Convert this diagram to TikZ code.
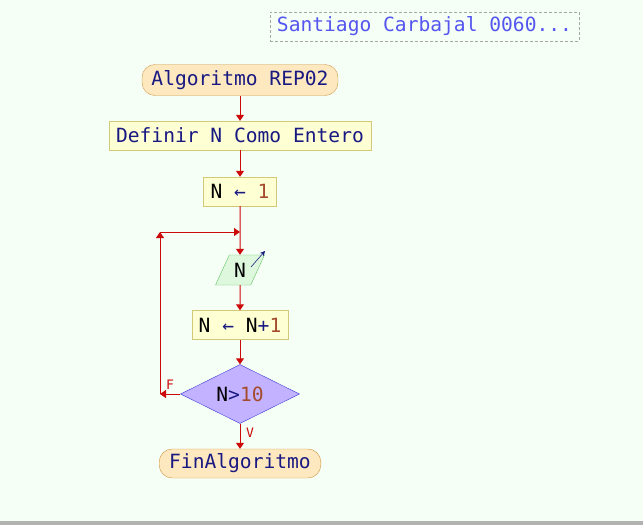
\documentclass[tikz,border=0pt]{standalone}
\usepackage{fontspec}
\newfontfamily\psfont{DejaVu Sans Mono}
\usetikzlibrary{positioning,shapes.geometric,arrows.meta}
\definecolor{bgmint}{RGB}{245,255,245}
\definecolor{kwnavy}{RGB}{25,25,130}
\definecolor{numbrown}{RGB}{165,75,45}
\definecolor{flowred}{RGB}{205,10,10}
\definecolor{procfill}{RGB}{255,255,212}
\definecolor{procdraw}{RGB}{210,200,120}
\definecolor{termfill}{RGB}{253,232,192}
\definecolor{termdraw}{RGB}{210,150,70}
\definecolor{readfill}{RGB}{222,248,222}
\definecolor{readdraw}{RGB}{100,195,100}
\definecolor{decfill}{RGB}{195,178,255}
\definecolor{decdraw}{RGB}{60,60,210}
\definecolor{titleblue}{RGB}{85,85,240}
\tikzstyle{term_box}=[rounded corners=13pt, fill=termfill, draw=termdraw, minimum height=31pt, inner xsep=9.5pt, text=kwnavy]
\tikzstyle{proc_box}=[fill=procfill, draw=procdraw, minimum height=29pt, inner xsep=7pt, text=kwnavy]
\tikzstyle{read_box}=[trapezium, trapezium left angle=62, trapezium right angle=118, trapezium stretches=true, fill=readfill, draw=readdraw, minimum height=30pt, minimum width=49pt, inner sep=0pt]
\tikzstyle{dec_box}=[diamond, aspect=2, fill=decfill, draw=decdraw, minimum width=119pt, minimum height=59pt, inner sep=0pt]
\tikzstyle{flow}=[-{Triangle[length=6pt,width=8pt]}, flowred, line width=1pt]
\tikzstyle{branch_lbl}=[text=flowred, font=\psfont\fontsize{13}{13}\selectfont, inner sep=0pt]

\begin{document}
\begin{tikzpicture}[
    x=1pt, y=-1pt,
    on grid,
    font=\psfont\fontsize{19.6}{20}\selectfont]

% page
        \fill[bgmint] (0,0) rectangle (643,525);
        \fill[black!30] (0,521) rectangle (643,525);
        \useasboundingbox (0,0) rectangle (643,525);

        \node[draw=black!35, dash pattern=on 3pt off 2pt, text=titleblue, minimum height=29pt, inner xsep=7pt] (author) at (424.5,26.5) {Santiago Carbajal 0060...};

% flow chart
        \node[term_box] (start) at (240,80) {Algoritmo REP02};
        \node[proc_box, below=55.5pt of start] (defn) {Definir N Como Entero};
        \node[proc_box, below=56pt of defn, text=black] (init) {N \textcolor{kwnavy}{←} \textcolor{numbrown}{1}};
        \node[read_box, below=78.5pt of init] (read) {N};
        \node[proc_box, below=55pt of read, text=black] (incr) {N \textcolor{kwnavy}{←} N\textcolor{kwnavy}{+}\textcolor{numbrown}{1}};
        \node[dec_box, below=69pt of incr] (decide) {N\textcolor{kwnavy}{>}\textcolor{numbrown}{10}};
        \node[term_box, below=69.5pt of decide, minimum height=29pt, inner xsep=10pt] (finish) {FinAlgoritmo};

        \node[branch_lbl] (lblF) at (170,385) {F};
        \node[branch_lbl] (lblV) at (250,433) {V};

        \coordinate (loopbot) at (160,394);
        \coordinate (looptop) at (160,232);
        \coordinate (loopjoin) at (240,232);
        \coordinate (readicon) at (251,267);

        \draw[-{Stealth[length=5pt,width=5pt]}, kwnavy, line width=0.6pt] (readicon) -- ++(14,-16);

        \begin{scope}[flow]
            \draw (start) -- (defn);
            \draw (defn) -- (init);
            \draw (init) -- (read);
            \draw (read) -- (incr);
            \draw (incr) -- (decide);
            \draw (decide) -- (finish);
            \draw (decide.west) -- (loopbot);
            \draw (loopbot) -- (looptop);
            \draw (looptop) -- (loopjoin);
        \end{scope}

\end{tikzpicture}
\end{document}
